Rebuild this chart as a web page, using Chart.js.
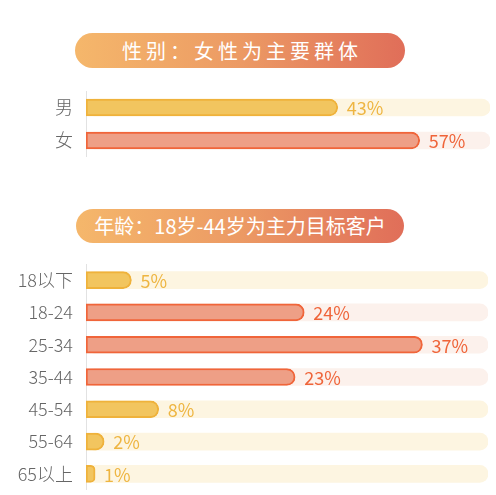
<!DOCTYPE html>
<html>
<head>
<meta charset="utf-8">
<script src="https://cdn.jsdelivr.net/npm/chart.js@4"></script>
<style>
  body { margin: 0; background: #fff; width: 496px; height: 495px; position: relative; overflow: hidden; font-family: "Noto Sans CJK SC", sans-serif; }
  .pill {
    position: absolute; height: 35px; border-radius: 18px;
    background: linear-gradient(90deg, #f5b76b 0%, #ec9a64 50%, #e06e59 100%);
    color: #fff; text-align: center; line-height: 35px; font-size: 20px; font-weight: 400;
  }
  #pillGender { left: 75px; top: 33px; width: 330px; letter-spacing: 4px; text-indent: 4px; }
  #pillAge { left: 76px; top: 209px; width: 328px; height: 34px; line-height: 34px; }
  .box { position: absolute; left: 0; width: 496px; }
  #genderBox { top: 91px; height: 66px; }
  #ageBox { top: 264px; height: 226px; }
</style>
</head>
<body>
<div class="pill" id="pillGender">性别：女性为主要群体</div>
<div class="pill" id="pillAge">年龄：18岁-44岁为主力目标客户</div>
<div class="box" id="genderBox"><canvas id="genderChart"></canvas></div>
<div class="box" id="ageBox"><canvas id="ageChart"></canvas></div>
<script>
// 性别
const genderLabels = ['男', '女'];
const genderValues = [43, 57];
const genderHighlight = [false, true];
const genderAxisMax = 69;

// 年龄
const ageLabels = ['18以下', '18-24', '25-34', '35-44', '45-54', '55-64', '65以上'];
const ageValues = [5, 24, 37, 23, 8, 2, 1];
const ageHighlight = [false, true, true, true, false, false, false];
const ageAxisMax = 44.2;

const colors = {
  yellow: { fill: '#f2c55f', border: '#efb23b', track: '#fdf5e1', text: '#eeb541' },
  red: { fill: '#ee9f86', border: '#f0653a', track: '#fcf1ec', text: '#ef6439' }
};

// 在每根柱子末端写百分比
const valueLabels = {
  id: 'valueLabels',
  afterDatasetsDraw(chart) {
    const ctx = chart.ctx;
    const meta = chart.getDatasetMeta(1);
    const ds = chart.data.datasets[1];
    ctx.save();
    ctx.font = '400 18px "Noto Sans CJK SC", sans-serif';
    ctx.textBaseline = 'middle';
    ctx.textAlign = 'left';
    meta.data.forEach((bar, i) => {
      ctx.fillStyle = ds.textColors[i];
      ctx.fillText(ds.data[i] + '%', bar.x + 9, bar.y + 1);
    });
    ctx.restore();
  }
};

function makeChart(id, labels, values, highlight, axisMax, padRight) {
  const pick = key => highlight.map(h => (h ? colors.red : colors.yellow)[key]);
  return new Chart(document.getElementById(id), {
    type: 'bar',
    data: {
      labels: labels,
      datasets: [{
        data: labels.map(() => axisMax),
        backgroundColor: pick('track'),
        borderWidth: 0,
        borderRadius: 9,
        borderSkipped: false,
        barThickness: 17,
        grouped: false,
        order: 2
      }, {
        data: values,
        backgroundColor: pick('fill'),
        borderColor: pick('border'),
        textColors: pick('text'),
        borderWidth: 2,
        borderRadius: { topLeft: 0, bottomLeft: 0, topRight: 9, bottomRight: 9 },
        borderSkipped: false,
        barThickness: 17,
        grouped: false,
        order: 1
      }]
    },
    options: {
      indexAxis: 'y',
      responsive: true,
      maintainAspectRatio: false,
      animation: false,
      layout: { padding: { left: 0, right: padRight, top: 0, bottom: 0 } },
      plugins: { legend: { display: false }, tooltip: { enabled: false } },
      scales: {
        x: { display: false, min: 0, max: axisMax },
        y: {
          afterFit: s => { s.width = 86; s.paddingTop = 0; s.paddingBottom = 0; },
          grid: { display: false },
          border: { display: true, color: '#e2e2e2', width: 1 },
          ticks: { color: '#666', padding: 5, font: { family: '"Noto Sans CJK SC", sans-serif', size: 18, weight: 300 } }
        }
      }
    },
    plugins: [valueLabels]
  });
}

document.addEventListener('DOMContentLoaded', () => {
  makeChart('genderChart', genderLabels, genderValues, genderHighlight, genderAxisMax, 6);
  makeChart('ageChart', ageLabels, ageValues, ageHighlight, ageAxisMax, 8);
});
</script>
</body>
</html>
